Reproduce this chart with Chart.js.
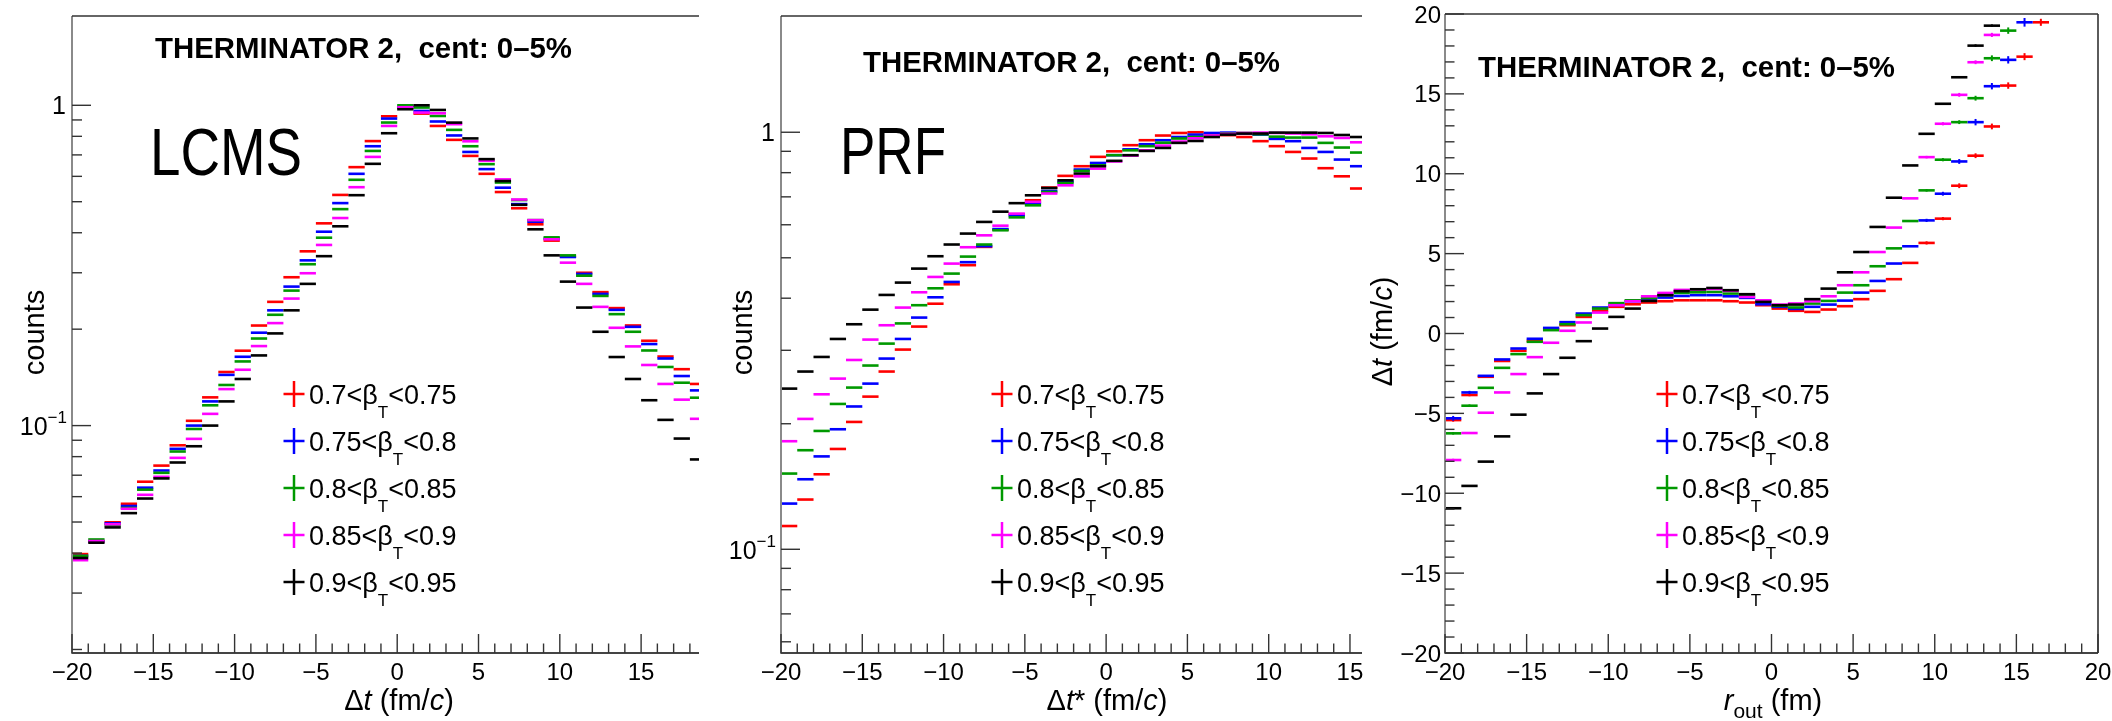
<!DOCTYPE html>
<html>
<head>
<meta charset="utf-8">
<script src="https://cdn.jsdelivr.net/npm/chart.js@4.4.1/dist/chart.umd.min.js"></script>
<style>
html,body{margin:0;padding:0;background:#fff;}
body{width:2112px;height:721px;position:relative;overflow:hidden;}
canvas{position:absolute;left:0;top:0;}
</style>
</head>
<body>
<canvas id="c1" width="2112" height="721"></canvas>
<canvas id="c2" width="2112" height="721"></canvas>
<canvas id="c3" width="2112" height="721"></canvas>
<script>
// ---------------- DATA ----------------
const seriesColors = ['#ff0000', '#0000ff', '#009900', '#ff00ff', '#000000'];
const legendLow  = ['0.7', '0.75', '0.8', '0.85', '0.9'];
const legendHigh = ['0.75', '0.8', '0.85', '0.9', '0.95'];

// Panel 1: LCMS, bins of width 1 fm/c (centres)
const lcmsBins = [-19.5,-18.5,-17.5,-16.5,-15.5,-14.5,-13.5,-12.5,-11.5,-10.5,-9.5,-8.5,-7.5,-6.5,-5.5,-4.5,-3.5,-2.5,-1.5,-0.5,0.5,1.5,2.5,3.5,4.5,5.5,6.5,7.5,8.5,9.5,10.5,11.5,12.5,13.5,14.5,15.5,16.5,17.5,18.5];
const lcmsRed     = [0.0397,0.0435,0.0499,0.0570,0.0668,0.0750,0.0868,0.1035,0.1225,0.147,0.1713,0.2053,0.2434,0.2905,0.350,0.428,0.525,0.641,0.773,0.924,0.984,0.942,0.862,0.780,0.695,0.611,0.536,0.477,0.425,0.378,0.337,0.300,0.261,0.2327,0.2054,0.184,0.1643,0.150,0.1349];
const lcmsBlue    = [0.0392,0.0436,0.0495,0.0561,0.0640,0.0724,0.0846,0.100,0.119,0.144,0.164,0.195,0.229,0.2716,0.328,0.403,0.495,0.611,0.745,0.909,0.988,0.960,0.890,0.805,0.715,0.632,0.553,0.4915,0.433,0.3834,0.336,0.2975,0.2577,0.2298,0.2034,0.1797,0.162,0.1428,0.1288];
const lcmsGreen   = [0.0392,0.0441,0.0489,0.0553,0.0631,0.0712,0.0830,0.0976,0.1157,0.1339,0.1586,0.187,0.2218,0.2639,0.319,0.386,0.474,0.5853,0.7203,0.8834,1.0,0.984,0.926,0.838,0.745,0.655,0.574,0.506,0.438,0.387,0.340,0.2938,0.254,0.2228,0.1963,0.1716,0.1524,0.1361,0.1222];
const lcmsMagenta = [0.0380,0.0436,0.0492,0.0550,0.0608,0.0692,0.0793,0.0909,0.1088,0.130,0.1494,0.1771,0.2089,0.2492,0.299,0.3664,0.4446,0.555,0.690,0.862,0.986,0.949,0.944,0.873,0.772,0.671,0.587,0.508,0.438,0.3816,0.3226,0.277,0.2348,0.202,0.1767,0.1546,0.1349,0.1205,0.105];
const lcmsBlack   = [0.0386,0.0431,0.0481,0.0533,0.0592,0.0684,0.0767,0.0862,0.100,0.119,0.1398,0.1656,0.194,0.229,0.277,0.338,0.419,0.524,0.6565,0.818,0.972,1.0,0.967,0.883,0.788,0.679,0.580,0.489,0.410,0.340,0.2815,0.2336,0.1963,0.1637,0.1398,0.120,0.1042,0.0911,0.0784];

// Panel 2: PRF
const prfBins = [-19.5,-18.5,-17.5,-16.5,-15.5,-14.5,-13.5,-12.5,-11.5,-10.5,-9.5,-8.5,-7.5,-6.5,-5.5,-4.5,-3.5,-2.5,-1.5,-0.5,0.5,1.5,2.5,3.5,4.5,5.5,6.5,7.5,8.5,9.5,10.5,11.5,12.5,13.5,14.5,15.5];
const prfRed     = [0.1137,0.1316,0.1513,0.174,0.202,0.2323,0.2668,0.3012,0.342,0.388,0.432,0.480,0.531,0.584,0.636,0.687,0.737,0.786,0.829,0.873,0.900,0.931,0.957,0.982,0.996,1.0,0.993,0.984,0.974,0.952,0.926,0.897,0.865,0.820,0.784,0.733];
const prfBlue    = [0.1287,0.1472,0.167,0.194,0.220,0.2496,0.2866,0.3194,0.3594,0.402,0.4376,0.488,0.533,0.586,0.632,0.677,0.723,0.760,0.814,0.844,0.881,0.910,0.936,0.957,0.974,0.987,0.996,0.998,0.993,0.987,0.964,0.952,0.917,0.897,0.860,0.829];
const prfGreen   = [0.1519,0.1728,0.1922,0.2231,0.2442,0.2758,0.3113,0.348,0.3848,0.4225,0.4582,0.5033,0.538,0.582,0.625,0.668,0.719,0.756,0.808,0.833,0.881,0.905,0.926,0.944,0.966,0.974,0.980,0.993,0.996,0.989,0.976,0.971,0.971,0.943,0.919,0.894];
const prfMagenta = [0.1816,0.2054,0.2353,0.2566,0.2844,0.3183,0.3445,0.3798,0.4133,0.4498,0.4842,0.530,0.566,0.597,0.638,0.681,0.713,0.746,0.784,0.818,0.851,0.879,0.905,0.929,0.950,0.967,0.982,0.991,0.996,0.998,0.996,0.993,0.989,0.978,0.969,0.946];
const prfBlack   = [0.2428,0.2668,0.2892,0.3194,0.3464,0.3755,0.4073,0.436,0.471,0.5043,0.538,0.5715,0.6095,0.645,0.676,0.706,0.735,0.767,0.796,0.829,0.854,0.881,0.902,0.917,0.943,0.953,0.974,0.987,0.993,0.993,0.998,0.998,0.998,0.996,0.985,0.974];

// Panel 3: Δt vs r_out
const routBins = [-19.5,-18.5,-17.5,-16.5,-15.5,-14.5,-13.5,-12.5,-11.5,-10.5,-9.5,-8.5,-7.5,-6.5,-5.5,-4.5,-3.5,-2.5,-1.5,-0.5,0.5,1.5,2.5,3.5,4.5,5.5,6.5,7.5,8.5,9.5,10.5,11.5,12.5,13.5,14.5,15.5,16.5];
const routRed     = [-5.42,-3.85,-2.71,-1.72,-1.08,-0.46,0.27,0.52,1.04,1.42,1.67,1.83,1.94,2.02,2.08,2.08,2.08,2.02,1.94,1.77,1.56,1.42,1.35,1.50,1.71,2.15,2.67,3.40,4.42,5.67,7.19,9.25,11.13,12.96,15.52,17.33,19.48];
const routBlue    = [-5.31,-3.69,-2.65,-1.625,-0.94,-0.33,0.35,0.71,1.25,1.625,1.79,2.02,2.19,2.25,2.35,2.40,2.40,2.33,2.23,1.83,1.67,1.54,1.67,1.81,2.06,2.56,3.29,4.38,5.46,7.08,8.75,10.77,13.23,15.48,17.13,19.48];
const routGreen   = [-6.25,-4.52,-3.40,-2.15,-1.29,-0.52,0.21,0.58,1.15,1.56,1.90,2.08,2.23,2.40,2.54,2.58,2.60,2.50,2.40,2.02,1.73,1.63,1.875,2.04,2.56,3.02,4.21,5.33,7.04,8.96,10.88,13.23,14.73,17.23,18.96];
const routMagenta = [-7.92,-6.23,-4.96,-3.69,-2.54,-1.48,-0.58,0.17,0.69,1.31,1.77,2.02,2.33,2.54,2.73,2.75,2.79,2.67,2.29,2.08,1.81,1.88,2.02,2.33,3.02,3.83,5.10,6.63,8.46,11.04,13.13,14.94,16.98,18.69];
const routBlack   = [-10.94,-9.54,-8.02,-6.44,-5.08,-3.75,-2.54,-1.52,-0.48,0.31,1.04,1.56,2.04,2.40,2.65,2.77,2.85,2.71,2.46,1.98,1.77,1.81,2.15,2.81,3.83,5.10,6.67,8.50,10.52,12.50,14.38,16.04,18.02,19.27];
const routRedErr     = [0.10,0.08,0,0,0,0,0,0,0,0, 0,0,0,0,0,0,0,0,0,0, 0,0,0,0,0,0,0,0,0,0.10, 0.10,0.15,0.15,0.18,0.20,0.22,0.22];
const routBlueErr    = [0.15,0.10,0,0,0,0,0,0,0,0, 0,0,0,0,0,0,0,0,0,0, 0,0,0,0,0,0,0,0,0,0.10, 0.12,0.15,0.20,0.20,0.23,0.27];
const routGreenErr   = [0.08,0.08,0,0,0,0,0,0,0,0, 0,0,0,0,0,0,0,0,0,0, 0,0,0,0,0,0,0,0,0,0.08, 0.10,0.12,0.15,0.18,0.20];
const routMagentaErr = [0.08,0,0,0,0,0,0,0,0,0, 0,0,0,0,0,0,0,0,0,0, 0,0,0,0,0,0,0,0,0,0.08, 0.10,0.12,0.12,0.13];
const routBlackErr   = [0,0,0,0,0,0,0,0,0,0, 0,0,0,0,0,0,0,0,0,0, 0,0,0,0,0,0,0,0,0,0, 0,0,0.08,0.08];

// tick labels
const lcmsXTickLabels = [-20,-15,-10,-5,0,5,10,15];
const prfXTickLabels  = [-20,-15,-10,-5,0,5,10,15];
const routXTickLabels = [-20,-15,-10,-5,0,5,10,15,20];
const routYTickLabels = [-20,-15,-10,-5,0,5,10,15,20];
const logYTickLabels  = [0.1, 1];

// ---------------- RENDERING ----------------
const FONT = '"Liberation Sans", Arial, Helvetica, sans-serif';
function setFont(ctx, size, bold, italic) {
  ctx.font = (italic ? 'italic ' : '') + (bold ? 'bold ' : '') + size + 'px ' + FONT;
}
function richWidth(ctx, segs) {
  let w = 0;
  for (const s of segs) { setFont(ctx, s.size, s.bold, s.italic); w += ctx.measureText(s.t).width; }
  return w;
}
function drawRich(ctx, segs, x, y, align, sx) {
  sx = sx || 1;
  const w = richWidth(ctx, segs) * sx;
  let cx = align === 'center' ? x - w / 2 : (align === 'right' ? x - w : x);
  ctx.textAlign = 'left';
  ctx.textBaseline = 'alphabetic';
  for (const s of segs) {
    setFont(ctx, s.size, s.bold, s.italic);
    ctx.save();
    ctx.translate(cx, y + (s.dy || 0));
    ctx.scale(sx, 1);
    ctx.fillText(s.t, 0, 0);
    ctx.restore();
    cx += ctx.measureText(s.t).width * sx;
  }
}
function seg(t, size, opts) { return Object.assign({t: t, size: size}, opts || {}); }
function line(ctx, x1, y1, x2, y2) { ctx.beginPath(); ctx.moveTo(x1, y1); ctx.lineTo(x2, y2); ctx.stroke(); }
function fmt(v) { return v < 0 ? '\u2212' + Math.abs(v) : String(v); }

const headText = 'THERMINATOR 2,  cent: 0\u20135%';
const TS = 29; // axis title size

const panels = [
  {
    canvas: 'c1', frame: {l: 72, t: 16, r: 699, b: 653},
    x: {min: -20, max: 18.56}, y: {type: 'logarithmic', min: 0.0195, max: 1.9},
    bins: lcmsBins, series: [lcmsRed, lcmsBlue, lcmsGreen, lcmsMagenta, lcmsBlack], errors: null,
    xTicks: lcmsXTickLabels, yLabelRight: 67,
    xTitle: [seg('\u0394', TS), seg('t', TS, {italic: true}), seg(' (fm/', TS), seg('c', TS, {italic: true}), seg(')', TS)],
    xTitleX: 399,
    yTitle: [seg('counts', TS)], yTitleX: 44,
    head: {x: 155, y: 58}, tag: {text: 'LCMS', x: 150, y: 175, w: 152},
    legend: {cx: 294, tx: 309}, rightLine: false
  },
  {
    canvas: 'c2', frame: {l: 781, t: 16, r: 1362, b: 653},
    x: {min: -20, max: 15.74}, y: {type: 'logarithmic', min: 0.0564, max: 1.9},
    bins: prfBins, series: [prfRed, prfBlue, prfGreen, prfMagenta, prfBlack], errors: null,
    xTicks: prfXTickLabels, yLabelRight: 776,
    xTitle: [seg('\u0394', TS), seg('t', TS, {italic: true}), seg('*', TS), seg(' (fm/', TS), seg('c', TS, {italic: true}), seg(')', TS)],
    xTitleX: 1107,
    yTitle: [seg('counts', TS)], yTitleX: 752,
    head: {x: 863, y: 71.5}, tag: {text: 'PRF', x: 840, y: 174, w: 106},
    legend: {cx: 1002, tx: 1017}, rightLine: false
  },
  {
    canvas: 'c3', frame: {l: 1445, t: 14, r: 2098, b: 653},
    x: {min: -20, max: 20}, y: {type: 'linear', min: -20, max: 20},
    bins: routBins, series: [routRed, routBlue, routGreen, routMagenta, routBlack],
    errors: [routRedErr, routBlueErr, routGreenErr, routMagentaErr, routBlackErr],
    xTicks: routXTickLabels, yTicks: routYTickLabels, yLabelRight: 1441,
    xTitle: [seg('r', TS, {italic: true}), seg('out', 21, {dy: 8}), seg(' (fm)', TS)],
    xTitleX: 1773,
    yTitle: [seg('\u0394', TS), seg('t', TS, {italic: true}), seg(' (fm/', TS), seg('c', TS, {italic: true}), seg(')', TS)],
    yTitleX: 1392,
    head: {x: 1478, y: 77}, tag: null,
    legend: {cx: 1667, tx: 1682}, rightLine: true
  }
];

function makePlugin(p) {
  return {
    id: 'rootDecor',
    afterDatasetsDraw(chart) {
      const ctx = chart.ctx;
      const xs = chart.scales.x, ys = chart.scales.y;
      const f = p.frame;
      ctx.save();
      // vertical error bars
      if (p.errors) {
        ctx.lineWidth = 2;
        p.errors.forEach((errs, i) => {
          ctx.strokeStyle = seriesColors[i];
          errs.forEach((e, j) => {
            if (!e) return;
            const v = p.series[i][j];
            const px = xs.getPixelForValue(p.bins[j]);
            line(ctx, px, ys.getPixelForValue(v + e), px, ys.getPixelForValue(v - e));
          });
        });
      }
      // frame
      ctx.lineCap = 'butt';
      ctx.strokeStyle = '#8a8a8a'; ctx.lineWidth = 2;
      line(ctx, f.l, f.t, f.l, f.b + 1);
      ctx.strokeStyle = '#444'; ctx.lineWidth = 2;
      line(ctx, f.l, f.b, f.r, f.b);
      ctx.lineWidth = 1.6; ctx.strokeStyle = '#333';
      line(ctx, f.l, f.t, f.r, f.t);
      if (p.rightLine) line(ctx, f.r, f.t, f.r, f.b);
      // x ticks
      ctx.strokeStyle = '#333'; ctx.lineWidth = 1.4;
      for (let v = Math.ceil(p.x.min); v <= Math.floor(p.x.max); v++) {
        const px = xs.getPixelForValue(v);
        const len = (v % 5 === 0) ? 19 : 9.5;
        line(ctx, px, f.b, px, f.b - len);
      }
      ctx.fillStyle = '#000';
      for (const v of p.xTicks) {
        drawRich(ctx, [seg(fmt(v), 24)], xs.getPixelForValue(v), f.b + 27, 'center');
      }
      // y ticks
      ctx.strokeStyle = '#333'; ctx.lineWidth = 1.4;
      if (p.y.type === 'logarithmic') {
        for (let d = -2; d <= 0; d++) {
          for (let m = 1; m <= 9; m++) {
            const v = m * Math.pow(10, d);
            if (v < p.y.min || v > p.y.max) continue;
            const py = ys.getPixelForValue(v);
            line(ctx, f.l, py, f.l + (m === 1 ? 19 : 10), py);
          }
        }
        for (const v of logYTickLabels) {
          const py = ys.getPixelForValue(v);
          if (v === 1) {
            drawRich(ctx, [seg('1', 25)], p.yLabelRight - 1, py + 9, 'right');
          } else {
            drawRich(ctx, [seg('10', 25), seg('\u22121', 17, {dy: -12})], p.yLabelRight, py + 9.5, 'right');
          }
        }
      } else {
        for (let v = p.y.min; v <= p.y.max; v++) {
          const py = ys.getPixelForValue(v);
          line(ctx, f.l, py, f.l + (v % 5 === 0 ? 19 : 9.5), py);
        }
        for (const v of p.yTicks) {
          drawRich(ctx, [seg(fmt(v), 24)], p.yLabelRight, ys.getPixelForValue(v) + 8.5, 'right');
        }
      }
      // axis titles
      drawRich(ctx, p.xTitle, p.xTitleX, 710, 'center');
      ctx.save();
      ctx.translate(p.yTitleX, (f.t + f.b) / 2 - 2);
      ctx.rotate(-Math.PI / 2);
      drawRich(ctx, p.yTitle, 0, 0, 'center');
      ctx.restore();
      // header text
      setFont(ctx, 29, true);
      const hw = ctx.measureText(headText).width;
      drawRich(ctx, [seg(headText, 29, {bold: true})], p.head.x, p.head.y, 'left', 417 / hw);
      // frame tag
      if (p.tag) {
        setFont(ctx, 66);
        const tw = ctx.measureText(p.tag.text).width;
        drawRich(ctx, [seg(p.tag.text, 66)], p.tag.x, p.tag.y, 'left', p.tag.w / tw);
      }
      // legend
      for (let i = 0; i < 5; i++) {
        const cy = 394 + i * 47;
        ctx.strokeStyle = seriesColors[i]; ctx.lineWidth = 2.5;
        line(ctx, p.legend.cx, cy - 13, p.legend.cx, cy + 13);
        line(ctx, p.legend.cx - 10.5, cy, p.legend.cx + 10.5, cy);
        ctx.fillStyle = '#000';
        drawRich(ctx, [seg(legendLow[i] + '<\u03b2', 27), seg('T', 17, {dy: 14}), seg('<' + legendHigh[i], 27)],
                 p.legend.tx, cy + 10, 'left');
      }
      ctx.restore();
    }
  };
}

for (const p of panels) {
  const datasets = p.series.map((vals, i) => ({
    label: legendLow[i] + '<βT<' + legendHigh[i],
    data: vals.map((v, j) => ({x: p.bins[j], y: v})),
    showLine: false,
    pointStyle: 'line',
    pointRadius: 8.15,
    pointBorderWidth: 2.6,
    pointBorderColor: seriesColors[i],
    pointBackgroundColor: seriesColors[i],
    order: 4 - i,
    clip: 0
  }));
  const f = p.frame;
  new Chart(document.getElementById(p.canvas), {
    type: 'scatter',
    data: {datasets: datasets},
    options: {
      responsive: false,
      animation: false,
      devicePixelRatio: 1,
      events: [],
      layout: {padding: {left: f.l, top: f.t, right: 2112 - f.r, bottom: 721 - f.b}},
      plugins: {legend: {display: false}, tooltip: {enabled: false}},
      scales: {
        x: {type: 'linear', min: p.x.min, max: p.x.max, display: false},
        y: {type: p.y.type, min: p.y.min, max: p.y.max, display: false}
      }
    },
    plugins: [makePlugin(p)]
  });
}
</script>
</body>
</html>
